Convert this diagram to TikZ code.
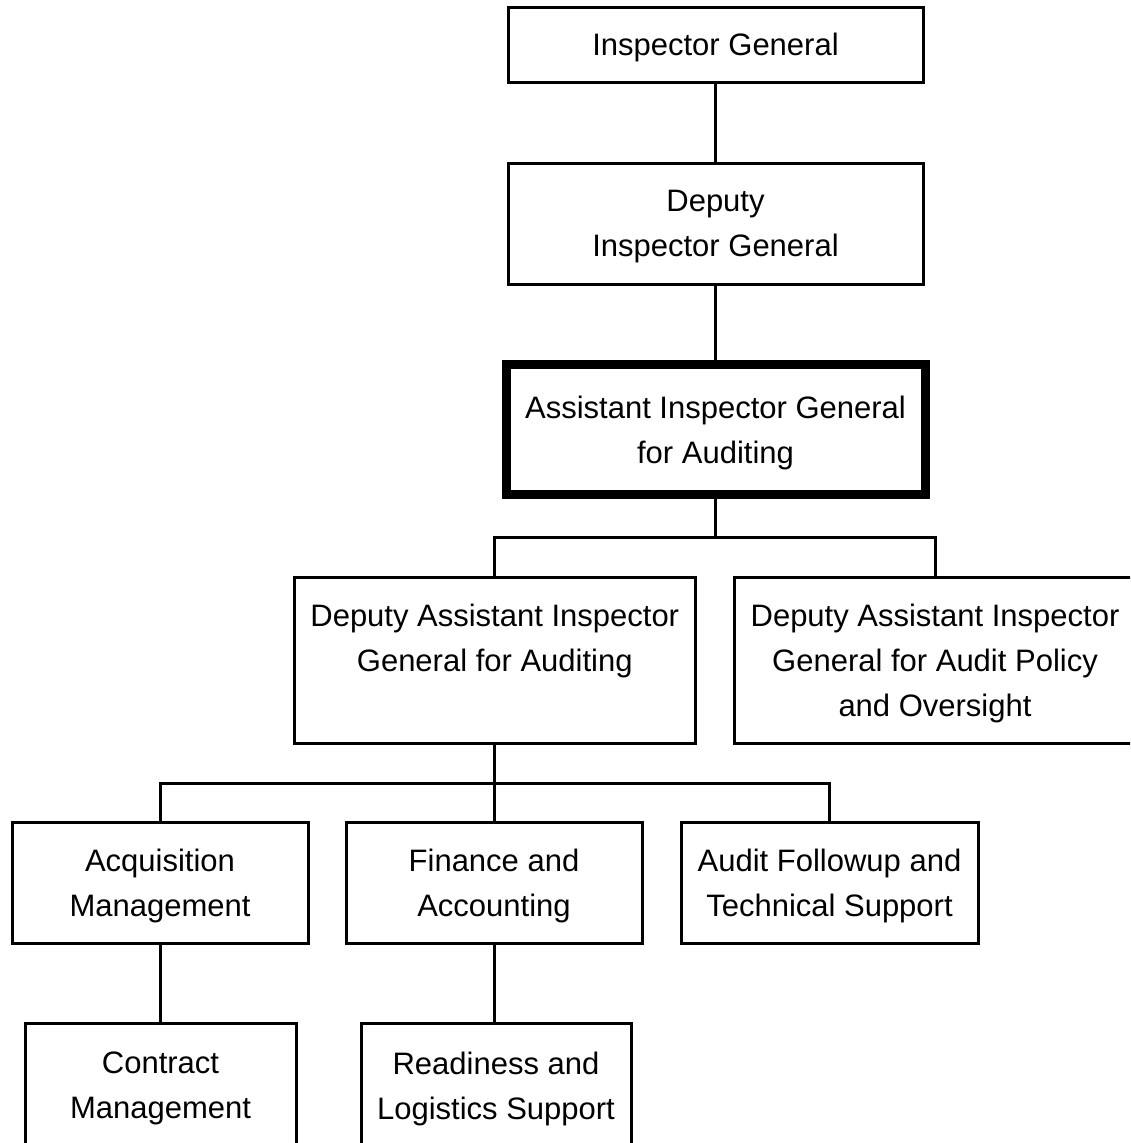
\documentclass[tikz,border=0pt]{standalone}
\usepackage{fontspec}
\setmainfont{Liberation Sans}
\begin{document}
\begin{tikzpicture}[x=1pt,y=-1pt,
  box/.style={draw=black, line width=3pt, fill=white, inner sep=0pt, align=center,
    text depth=0pt, font=\fontsize{31}{45}\selectfont},
  mainbox/.style={box, line width=9pt},
  conn/.style={draw=black, line width=3pt}]
\clip (0,0) rectangle (1130,1143);
\fill[white] (0,0) rectangle (1130,1143);
% nodes
\node[box, minimum width=415pt, minimum height=75pt] (ig) at (715.5,44.5) {Inspector General};
\node[box, minimum width=415pt, minimum height=121pt] (dig) at (715.5,223.5) {Deputy\\Inspector General};
\node[mainbox, minimum width=419pt, minimum height=129.5pt] (aig) at (715.5,429.5) {Assistant Inspector General\\for Auditing};
\node[box, minimum width=401.5pt, minimum height=166pt] (daiga) at (494.75,660) {Deputy Assistant Inspector\\General for Auditing\\\mbox{}};
\node[box, minimum width=401pt, minimum height=166pt] (daigp) at (935,660) {Deputy Assistant Inspector\\General for Audit Policy\\and Oversight};
\node[box, minimum width=296pt, minimum height=120.5pt] (acq) at (160,883) {Acquisition\\Management};
\node[box, minimum width=296pt, minimum height=120.5pt] (fin) at (494,883) {Finance and\\Accounting};
\node[box, minimum width=297pt, minimum height=120.5pt] (aud) at (829.5,883) {Audit Followup and\\Technical Support};
\node[box, minimum width=271pt, minimum height=125pt] (con) at (160.5,1085.5) {Contract\\Management};
\node[box, minimum width=270pt, minimum height=125pt] (rls) at (496,1085.5) {Readiness and\\Logistics Support};
% junctions
\coordinate (j1) at (715.5,537.5);
\coordinate (j2) at (494.75,783);
% connectors
\draw[conn] (ig.south) -- (dig.north);
\draw[conn] (dig.south) -- (aig.north);
\draw[conn] (aig.south) -- (j1);
\draw[conn] (j1) -| (daiga.north);
\draw[conn] (j1) -| (daigp.north);
\draw[conn] (daiga.south) -- (j2);
\draw[conn] (j2) -| (acq.north);
\draw[conn] (j2) -| (fin.north);
\draw[conn] (j2) -| (aud.north);
\draw[conn] (acq.south) -- (acq.south |- con.north);
\draw[conn] (fin.south) -- (fin.south |- rls.north);
\end{tikzpicture}
\end{document}
